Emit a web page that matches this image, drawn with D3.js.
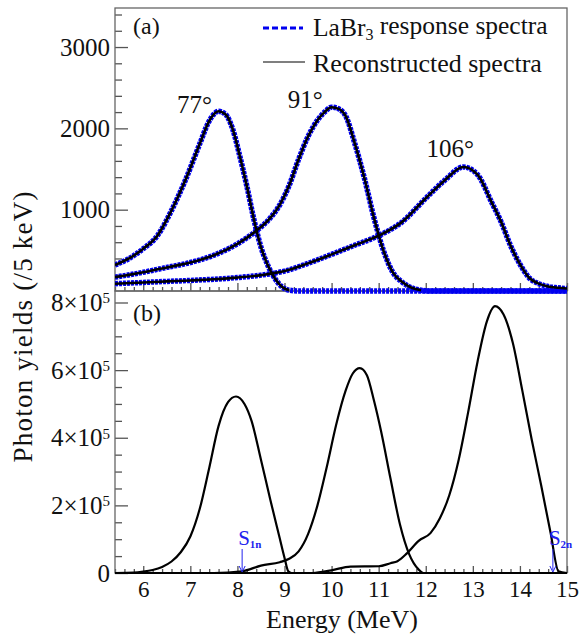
<!DOCTYPE html>
<html lang="en">
<head>
<meta charset="UTF-8">
<title>LaBr3 response and reconstructed spectra</title>
<script src="https://cdn.jsdelivr.net/npm/d3@7"></script>
<style>
    body { margin: 0; background: #fff; }
    svg text { font-family: "Liberation Serif", "Times New Roman", serif; fill: #111; }
    .frame { fill: none; stroke: #666; stroke-width: 1.3; }
    .tick line { stroke: #555; stroke-width: 1.3; }
</style>
</head>
<body>
<div id="main"></div>
<script>
// ---- values ----

// (a) LaBr3 response spectra (counts / 5 keV) vs energy (MeV)
const e77 = [5.4, 5.7, 6.0, 6.3, 6.6, 6.9, 7.2, 7.4, 7.6, 7.75, 7.9, 8.05, 8.2, 8.35, 8.5, 8.65, 8.8, 8.95, 9.1, 9.3, 15];
const c77 = [320, 400, 520, 680, 990, 1370, 1810, 2090, 2210, 2170, 1990, 1660, 1290, 880, 540, 310, 150, 50, 10, 0, 0];

const e91 = [5.4, 6.0, 6.5, 7.0, 7.5, 8.0, 8.4, 8.7, 8.9, 9.1, 9.3, 9.5, 9.7, 9.85, 10.0, 10.15, 10.3, 10.5, 10.7, 10.9, 11.1, 11.3, 11.5, 11.7, 11.9, 12.1, 15];
const c91 = [170, 230, 290, 350, 440, 580, 740, 900, 1060, 1300, 1620, 1900, 2100, 2200, 2260, 2240, 2150, 1800, 1380, 900, 500, 230, 110, 40, 10, 0, 0];

const e106 = [5.4, 6.0, 6.5, 7.0, 7.5, 8.0, 8.5, 9.0, 9.5, 10.0, 10.5, 11.0, 11.5, 12.0, 12.4, 12.8, 13.1, 13.4, 13.6, 13.8, 14.0, 14.2, 14.4, 14.6, 14.8, 15];
const c106 = [90, 105, 118, 130, 145, 165, 195, 245, 340, 450, 565, 680, 850, 1140, 1360, 1525, 1430, 1090, 850, 560, 330, 160, 90, 55, 40, 30];

// (b) reconstructed spectra, photon yields in units of 10^5
const r77e = [5.4, 5.8, 6.0, 6.2, 6.4, 6.6, 6.8, 7.0, 7.2, 7.4, 7.6, 7.8, 7.97, 8.15, 8.3, 8.5, 8.7, 8.9, 9.0, 9.08, 9.15, 15];
const r77v = [0, 0.01, 0.04, 0.09, 0.18, 0.34, 0.62, 1.08, 1.9, 3.1, 4.35, 5.05, 5.22, 5.0, 4.5, 3.35, 2.16, 1.02, 0.45, 0.05, 0, 0];

const r91e = [5.4, 7.5, 8.1, 8.5, 8.9, 9.1, 9.3, 9.5, 9.7, 9.9, 10.1, 10.3, 10.45, 10.6, 10.75, 10.9, 11.05, 11.25, 11.45, 11.65, 11.85, 11.95, 15];
const r91v = [0, 0, 0.05, 0.22, 0.32, 0.42, 0.64, 1.15, 2.0, 3.15, 4.4, 5.4, 5.9, 6.06, 5.85, 5.1, 4.2, 2.8, 1.45, 0.55, 0.1, 0, 0];

const r106e = [5.4, 9.6, 10.0, 10.4, 11.0, 11.25, 11.4, 11.6, 11.85, 12.1, 12.3, 12.5, 12.7, 12.9, 13.1, 13.3, 13.47, 13.65, 13.85, 14.05, 14.25, 14.45, 14.65, 14.82, 15];
const r106v = [0, 0, 0.08, 0.19, 0.2, 0.29, 0.35, 0.58, 0.95, 1.18, 1.62, 2.3, 3.35, 4.75, 6.25, 7.45, 7.89, 7.65, 6.8, 5.4, 3.95, 2.6, 1.2, 0.05, 0];

// tick values
const xTicks = [6, 7, 8, 9, 10, 11, 12, 13, 14, 15];
const yTicksA = [1000, 2000, 3000];
const yTicksB = [0, 2, 4, 6, 8];

// peak labels in (a) and thresholds in (b)
const angleLabels = ["77°", "91°", "106°"];
const angleAt = [[7.09, 2190], [9.44, 2250], [12.52, 1650]];
const thresholds = [{ name: "S", sub: "1n", e: 8.10 }, { name: "S", sub: "2n", e: 14.70 }];

// ---- layout ----
const W = 581, H = 638;
const left = 115, right = 567, topA = 8, midY = 291, botB = 573;

const svg = d3.select('#main').append('svg')
    .attr('width', W).attr('height', H);

const x = d3.scaleLinear().domain([5.4, 15]).range([left, right]);
const yA = d3.scaleLinear().domain([0, 3480]).range([midY, topA]);
const yB = d3.scaleLinear().domain([0, 8.34]).range([botB, midY]);

const defs = svg.append('defs');
defs.append('clipPath').attr('id', 'clipA').append('rect')
    .attr('x', left).attr('y', topA).attr('width', right - left).attr('height', midY - topA + 3);
defs.append('clipPath').attr('id', 'clipB').append('rect')
    .attr('x', left).attr('y', midY).attr('width', right - left).attr('height', botB - midY + 3);

// minor ticks
const xMinor = d3.range(5.4, 15.001, 0.2).map(v => +v.toFixed(1)).filter(v => !xTicks.includes(v));
const yMinorA = d3.range(200, 3480, 200).filter(v => v % 1000 !== 0);
const yMinorB = d3.range(0.5, 8.34, 0.5).filter(v => v % 2 !== 0);

function ticks(gen, tx, ty) {
    const g = svg.append('g').attr('transform', `translate(${tx},${ty})`).call(gen);
    g.select('.domain').remove();
    return g;
}

// panel (a) axes
ticks(d3.axisLeft(yA).tickValues(yMinorA).tickSize(-7).tickFormat(''), left, 0);
ticks(d3.axisLeft(yA).tickValues(yTicksA).tickSize(-13).tickPadding(5).tickFormat(d3.format('d')), left, 0)
    .selectAll('text').style('font-size', '25px');
ticks(d3.axisBottom(x).tickValues(xMinor).tickSize(-4).tickFormat(''), 0, midY);
ticks(d3.axisBottom(x).tickValues(xTicks).tickSize(-8).tickFormat(''), 0, midY);

// panel (b) axes
ticks(d3.axisLeft(yB).tickValues(yMinorB).tickSize(-7).tickFormat(''), left, 0);
const gyB = ticks(d3.axisLeft(yB).tickValues(yTicksB).tickSize(-13).tickPadding(5).tickFormat(''), left, 0);
gyB.selectAll('.tick text').style('font-size', '25px').each(function (d) {
    const t = d3.select(this);
    if (d === 0) { t.text('0'); return; }
    t.append('tspan').text(d + '×10');
    t.append('tspan').attr('dy', '-0.5em').style('font-size', '15px').text('5');
});
ticks(d3.axisBottom(x).tickValues(xMinor).tickSize(-4).tickFormat(''), 0, botB);
ticks(d3.axisBottom(x).tickValues(xTicks).tickSize(-7).tickPadding(8).tickFormat(d3.format('d')), 0, botB)
    .selectAll('text').style('font-size', '23px');

// frames
svg.append('rect').attr('class', 'frame')
    .attr('x', left).attr('y', topA).attr('width', right - left).attr('height', midY - topA);
svg.append('rect').attr('class', 'frame')
    .attr('x', left).attr('y', midY).attr('width', right - left).attr('height', botB - midY);

// ---- panel (a) spectra ----
const lineA = d3.line().x(d => x(d[0])).y(d => yA(d[1])).curve(d3.curveMonotoneX);
// black reconstructed line stops where the spectrum reaches zero
const lineA2 = d3.line().defined(d => d[1] > 0).x(d => x(d[0])).y(d => yA(d[1])).curve(d3.curveMonotoneX);
const specA = [d3.zip(e77, c77), d3.zip(e91, c91), d3.zip(e106, c106)];
const gA = svg.append('g').attr('clip-path', 'url(#clipA)');

gA.selectAll('path.resp').data(specA).enter().append('path')
    .attr('class', 'resp')
    .attr('d', lineA)
    .attr('fill', 'none')
    .attr('stroke', '#0000f0')
    .attr('stroke-width', 5.5)
    .attr('stroke-dasharray', '3,1');
gA.selectAll('path.reco').data(specA).enter().append('path')
    .attr('class', 'reco')
    .attr('d', lineA2)
    .attr('fill', 'none')
    .attr('stroke', '#000')
    .attr('stroke-width', 2.6);

svg.selectAll('text.angle').data(angleLabels).enter().append('text')
    .attr('class', 'angle')
    .attr('x', (d, i) => x(angleAt[i][0]))
    .attr('y', (d, i) => yA(angleAt[i][1]))
    .attr('text-anchor', 'middle')
    .style('font-size', '25px')
    .text(d => d);

// legend
svg.append('line').attr('x1', 263).attr('x2', 303).attr('y1', 28).attr('y2', 28)
    .attr('stroke', '#0000f0').attr('stroke-width', 3).attr('stroke-dasharray', '6,3');
svg.append('line').attr('x1', 263).attr('x2', 305).attr('y1', 62).attr('y2', 62)
    .attr('stroke', '#000').attr('stroke-width', 1.2);
const lg1 = svg.append('text').attr('x', 313).attr('y', 36).style('font-size', '25.5px');
lg1.append('tspan').text('LaBr');
lg1.append('tspan').attr('dy', '0.25em').style('font-size', '16px').text('3');
lg1.append('tspan').attr('dy', '-0.25em').text(' response spectra');
svg.append('text').attr('x', 313).attr('y', 72).style('font-size', '26px').text('Reconstructed spectra');

svg.append('text').attr('x', 133).attr('y', 34).style('font-size', '24px').text('(a)');
svg.append('text').attr('x', 133).attr('y', 321).style('font-size', '24px').text('(b)');

// ---- panel (b) reconstructed ----
const lineB = d3.line().x(d => x(d[0])).y(d => yB(d[1])).curve(d3.curveMonotoneX);
const specB = [d3.zip(r77e, r77v), d3.zip(r91e, r91v), d3.zip(r106e, r106v)];
svg.append('g').attr('clip-path', 'url(#clipB)')
    .selectAll('path').data(specB).enter().append('path')
    .attr('d', lineB)
    .attr('fill', 'none')
    .attr('stroke', '#000')
    .attr('stroke-width', 2.2);

// thresholds S1n / S2n
const th = svg.selectAll('g.thr').data(thresholds).enter().append('g').attr('class', 'thr');
th.append('line')
    .attr('x1', d => x(d.e)).attr('x2', d => x(d.e))
    .attr('y1', yB(0) - 24).attr('y2', yB(0) - 3)
    .attr('stroke', '#2222ee').attr('stroke-width', 1);
th.append('path')
    .attr('d', d => `M${x(d.e) - 3},${yB(0) - 7}L${x(d.e)},${yB(0) - 1}L${x(d.e) + 3},${yB(0) - 7}`)
    .attr('fill', 'none').attr('stroke', '#2222ee').attr('stroke-width', 1);
const thText = th.append('text')
    .attr('x', d => x(d.e) - 4)
    .attr('y', yB(0) - 28)
    .style('font-size', '21px')
    .style('fill', '#2222ee');
thText.append('tspan').text(d => d.name);
thText.append('tspan').attr('dy', '3').style('font-size', '11px').style('font-weight', 'bold').text(d => d.sub);

// axis titles
svg.append('text')
    .attr('transform', 'translate(32,327) rotate(-90)')
    .attr('text-anchor', 'middle')
    .attr('textLength', 271)
    .attr('lengthAdjust', 'spacing')
    .style('font-size', '27px')
    .text('Photon yields (/5 keV)');
svg.append('text')
    .attr('x', (left + right) / 2 + 1)
    .attr('y', 628)
    .attr('text-anchor', 'middle')
    .style('font-size', '26px')
    .text('Energy (MeV)');
</script>
</body>
</html>
